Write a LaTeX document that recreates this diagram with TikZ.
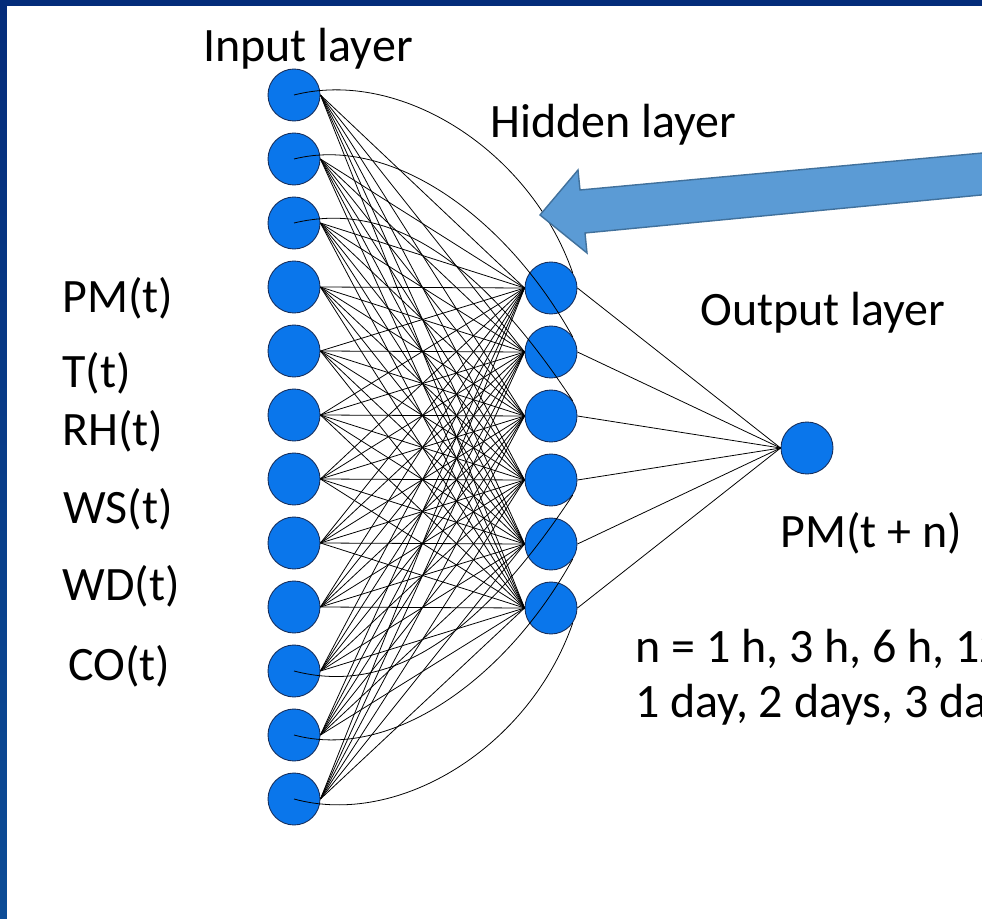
\documentclass[tikz,border=0pt]{standalone}
\usepackage{fontspec}
\setmainfont{Carlito}
\definecolor{frameTop}{RGB}{4,44,122}
\definecolor{frameBot}{RGB}{12,76,150}
\definecolor{neuronFill}{RGB}{10,118,235}
\definecolor{neuronEdge}{RGB}{22,46,92}
\definecolor{arrowFill}{RGB}{91,155,213}
\definecolor{arrowEdge}{RGB}{65,113,156}
\tikzset{
  neuron/.style={circle, fill=neuronFill, draw=neuronEdge, line width=0.5pt,
    minimum size=1.04cm, inner sep=0pt},
  link/.style={line width=0.45pt, draw=black},
  caption/.style={font=\fontsize{27.3}{32}\selectfont, anchor=base west,
    inner sep=0pt, text=black}
}
\begin{document}
\begin{tikzpicture}[x=0.02cm, y=-0.02cm]
  \useasboundingbox (0,0) rectangle (982,918);
  % slide frame and white canvas
  \fill[top color=frameTop, bottom color=frameBot] (0,0) rectangle (982,918);
  \fill[white] (7,6) rectangle (1000,940);

  \begin{scope}
    \clip (7,6) rectangle (982,918);

    % neurons
    \foreach \k in {1,...,12}
      \node[neuron] (i\k) at (294, {95+64*(\k-1)}) {};
    \foreach \k in {1,...,6}
      \node[neuron] (h\k) at (551, {288+64*(\k-1)}) {};
    \node[neuron] (o) at (807,448) {};

    % fully connected weights
    \foreach \a in {1,...,12}
      \foreach \b in {1,...,6}
        \draw[link] (i\a.east) -- (h\b.west);
    \foreach \b in {1,...,6}
      \draw[link] (h\b.east) -- (o.west);

    % curved links from the outer inputs
    \draw[link] (i1.center) .. controls (400,68) and (530,150) .. (h1.35);
    \draw[link] (i2.center) .. controls (390,135) and (505,215) .. (h2.35);
    \draw[link] (i3.center) .. controls (390,200) and (480,260) .. (h3.35);
    \draw[link] (i12.center) .. controls (400,828) and (530,746) .. (h6.-35);
    \draw[link] (i11.center) .. controls (390,761) and (505,681) .. (h5.-35);
    \draw[link] (i10.center) .. controls (390,696) and (480,636) .. (h4.-35);

    % block arrow pointing at the hidden layer
    \filldraw[fill=arrowFill, draw=arrowEdge, line width=0.8pt]
      (540,215) coordinate (tip) -- (578,170) -- (580,190) -- (1000,151.4)
      -- (1000,193.2) -- (585,233) -- (587,253) -- cycle;

    % labels
    \node[caption] (tin)  at (203,62)  {Input layer};
    \node[caption] (thid) at (490,138) {Hidden layer};
    \node[caption] (tout) at (700,325) {Output layer};
    \node[caption] (tpm)  at (62,313)  {PM(t)};
    \node[caption] (tt)   at (62,387)  {T(t)};
    \node[caption] (trh)  at (62,445)  {RH(t)};
    \node[caption] (tws)  at (63,523)  {WS(t)};
    \node[caption] (twd)  at (62,600)  {WD(t)};
    \node[caption] (tco)  at (68,680)  {CO(t)};
    \node[caption] (tpmn) at (780,547) {PM(t + n)};
    \node[caption] (tn1)  at (635,662) {n = 1 h, 3 h, 6 h, 12 h,};
    \node[caption] (tn2)  at (635,717) {1 day, 2 days, 3 days};
  \end{scope}
\end{tikzpicture}
\end{document}
